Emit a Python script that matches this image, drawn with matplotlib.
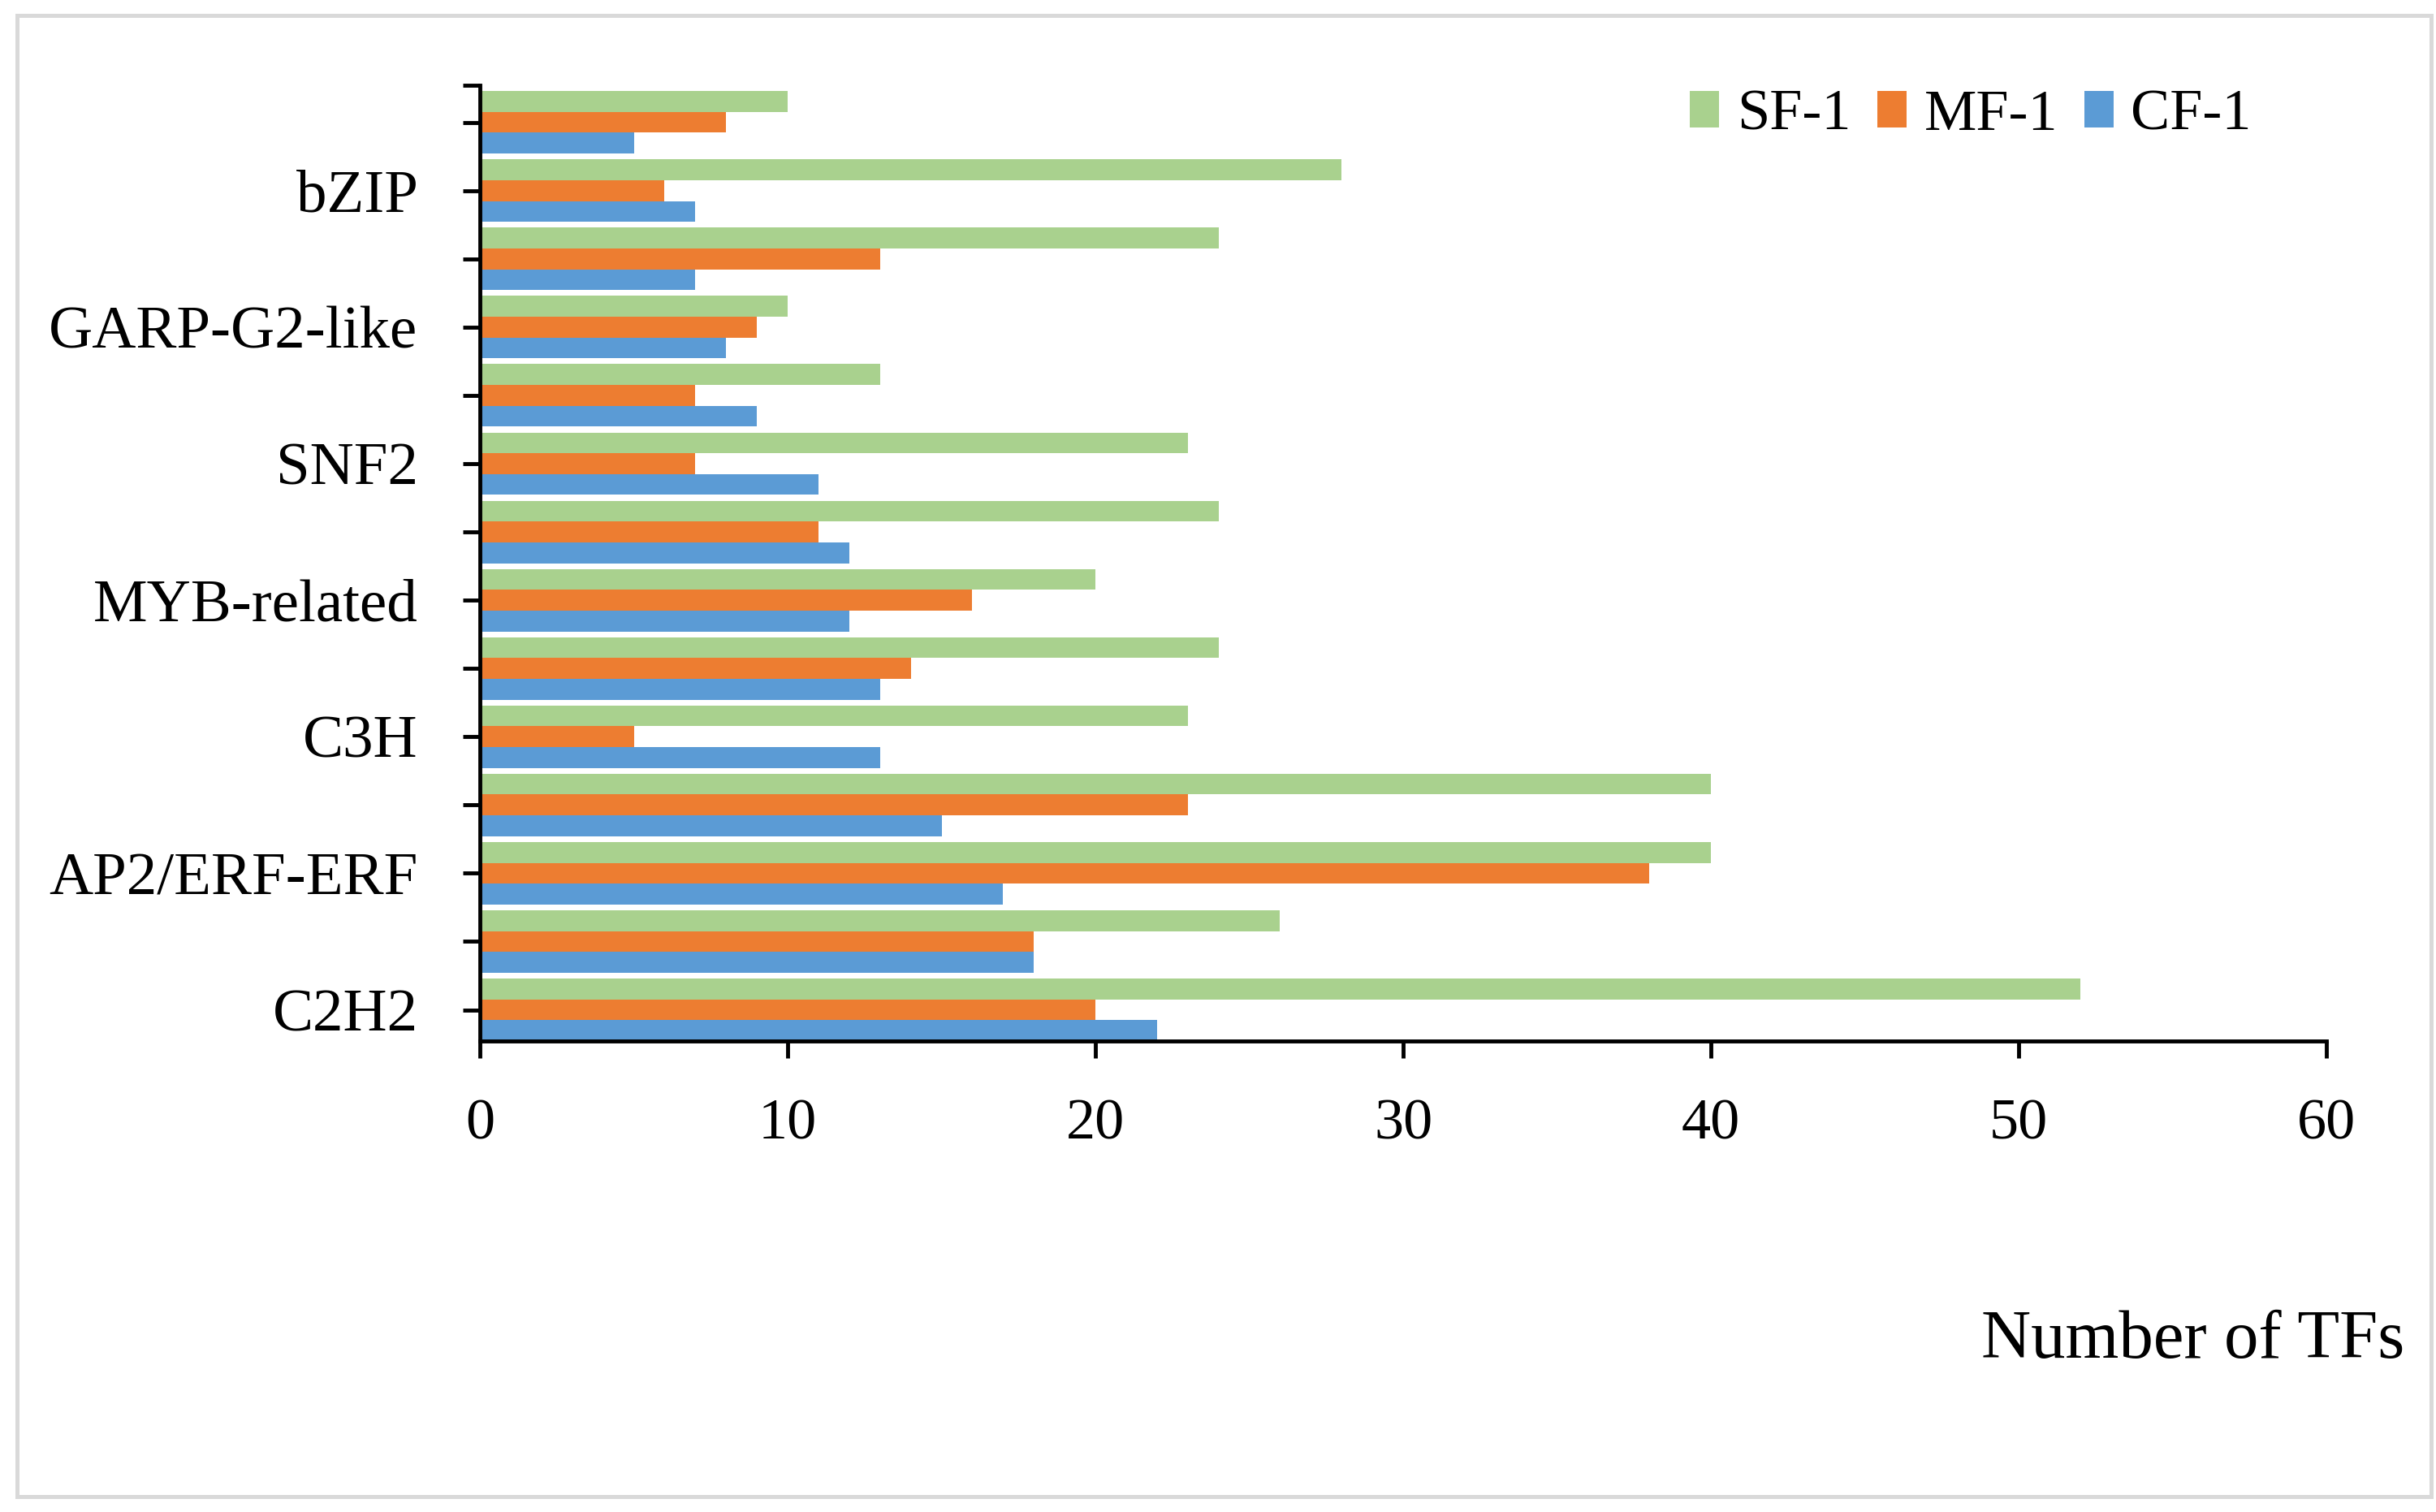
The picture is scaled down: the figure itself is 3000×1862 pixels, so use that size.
import numpy as np
import matplotlib
matplotlib.use("Agg")
import matplotlib.pyplot as plt
from matplotlib.patches import Rectangle

plt.rcParams['font.family'] = ['Liberation Serif', 'DejaVu Serif']

# categories from bottom to top (every other one is unlabelled in the original)
categories = ['C2H2', '', 'AP2/ERF-ERF', '', 'C3H', '', 'MYB-related', '',
              'SNF2', '', 'GARP-G2-like', '', 'bZIP', '']
cf1 = [22, 18, 17, 15, 13, 13, 12, 12, 11, 9, 8, 7, 7, 5]
mf1 = [20, 18, 38, 23, 5, 14, 16, 11, 7, 7, 9, 13, 6, 8]
sf1 = [52, 26, 40, 40, 23, 24, 20, 24, 23, 13, 10, 24, 28, 10]
x_ticks = [0, 10, 20, 30, 40, 50, 60]

green = '#A9D18E'
orange = '#ED7D31'
blue = '#5B9BD5'

fig = plt.figure(figsize=(30, 18.62), dpi=100)
ax = fig.add_axes([0.197, 0.3115, 0.758, 0.6321])

y = np.arange(len(categories))
h = 0.305
b_cf = ax.barh(y - h, cf1, height=h, color=blue, label='CF-1')
b_mf = ax.barh(y, mf1, height=h, color=orange, label='MF-1')
b_sf = ax.barh(y + h, sf1, height=h, color=green, label='SF-1')

top = len(categories) - 1 + 1.5 * h + 0.085
ax.set_ylim(-1.5 * h, top)
ax.set_xlim(0, 60)
ax.set_xticks(x_ticks)
ax.set_xticklabels([str(t) for t in x_ticks])
ax.set_yticks(list(y) + [top])
ax.set_yticklabels(categories + [''])

for s in ['top', 'right']:
    ax.spines[s].set_visible(False)
for s in ['left', 'bottom']:
    ax.spines[s].set_linewidth(3.5)
ax.tick_params(axis='both', length=15, width=3.5)
ax.tick_params(axis='x', pad=36, labelsize=52)
ax.tick_params(axis='y', pad=40, labelsize=54)

fig.text(0.987, 0.1133, 'Number of TFs', ha='right', va='center', fontsize=61)

fig.legend(handles=[b_sf, b_mf, b_cf], labels=['SF-1', 'MF-1', 'CF-1'],
           loc='center', bbox_to_anchor=(0.809, 0.9235), ncol=3, frameon=False,
           fontsize=52, handlelength=0.5, handleheight=0.6, handletextpad=0.3,
           columnspacing=0.45)

# grey outer border
fig.patches.append(Rectangle((0.007, 0.01), 0.991, 0.98, transform=fig.transFigure,
                             fill=False, edgecolor='#D9D9D9', linewidth=3.6))

fig.savefig('out.png', dpi=100)
